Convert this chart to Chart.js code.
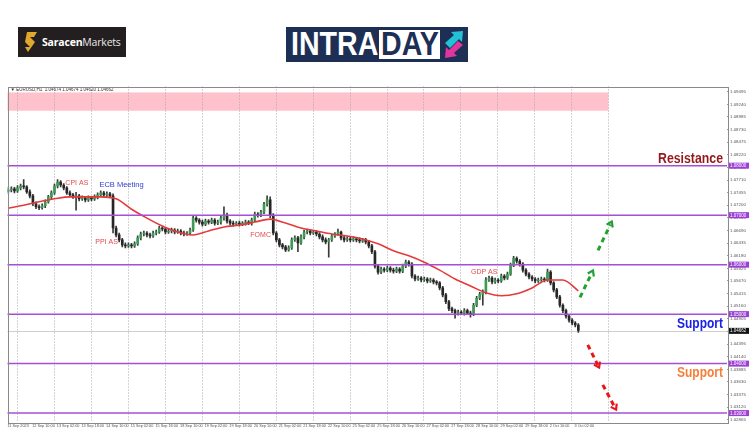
<!DOCTYPE html>
<html><head><meta charset="utf-8">
<script src="https://cdn.jsdelivr.net/npm/chart.js@4/dist/chart.umd.min.js"></script>
<style>
html,body{margin:0;padding:0;background:#fff;width:750px;height:430px;overflow:hidden;}
#wrap{position:relative;width:750px;height:430px;}
#c{position:absolute;left:0;top:0;}
#sar{position:absolute;left:18px;top:27px;width:108px;height:30px;background:#231f20;}
#sar svg{position:absolute;left:6px;top:5px;}
#sar .t{position:absolute;left:24px;top:8px;font-family:'Open Sans','Liberation Sans',sans-serif;font-size:10.5px;color:#fff;white-space:nowrap;letter-spacing:-0.2px;}
#sar .t b{font-weight:700;}
#sar .t span{font-weight:400;color:#e8e8e8;}
#intra{position:absolute;left:286px;top:27px;width:182px;height:35px;background:#1d2f55;overflow:hidden;}
#intra .a{position:absolute;left:5px;top:-3px;font-family:'Liberation Sans',Arial,sans-serif;font-weight:700;font-size:34px;color:#fff;transform:scaleX(0.84);transform-origin:left top;}
#intra .box{position:absolute;left:93px;top:3px;width:61px;height:29px;background:#fff;}
#intra .d{position:absolute;left:95px;top:-3px;font-family:'Liberation Sans',Arial,sans-serif;font-weight:700;font-size:34px;color:#1d2f55;transform:scaleX(0.84);transform-origin:left top;}
#intra svg{position:absolute;left:156px;top:2px;}
</style></head>
<body><div id="wrap">
<canvas id="c" width="750" height="430"></canvas>
<div id="sar"><svg width="14" height="20" viewBox="0 0 14 20"><polygon points="3,0 13,0 10,5 6,5 11,10 4,20 1,15 6,15 1,10" fill="#e0a92e"/></svg><div class="t"><b>Saracen</b><span>Markets</span></div></div>
<div id="intra"><div class="a">INTRA</div><div class="box"></div><div class="d">DAY</div>
<svg width="24" height="31" viewBox="0 0 24 31"><polygon points="3,14 12,6 9,3 21,2 20,13 17,10 8,19" fill="#22c1d6"/><polygon points="21,16 12,24 15,27 3,29 4,18 7,21 16,12" fill="#e0359f"/></svg></div>
</div>
<script>
// ---- data ----
const xTickLabels = ['11 Sep 2023','12 Sep 10:00','13 Sep 02:00','13 Sep 18:00','14 Sep 10:00','15 Sep 02:00','15 Sep 18:00','18 Sep 10:00','19 Sep 02:00','19 Sep 18:00','20 Sep 10:00','21 Sep 02:00','21 Sep 18:00','22 Sep 10:00','25 Sep 02:00','25 Sep 18:00','26 Sep 10:00','27 Sep 02:00','27 Sep 18:00','28 Sep 10:00','29 Sep 02:00','29 Sep 18:00','2 Oct 10:00','3 Oct 02:00'];
const yTickValues = [1.09495,1.09240,1.08985,1.08730,1.08475,1.08220,1.07965,1.07710,1.07455,1.07200,1.06945,1.06690,1.06435,1.06180,1.05925,1.05670,1.05415,1.05160,1.04905,1.04650,1.04395,1.04140,1.03885,1.03630,1.03375,1.03120,1.02865];
const levels = [1.0800,1.0700,1.0600,1.0500,1.0400,1.0300];
const currentPrice = 1.04662;
const band = [1.0911,1.0948];
const opens = [
1.0748,1.0751,1.0753,1.0749,1.0755,1.0759,1.0757,1.0747,1.0739,1.0723,
1.0717,1.0715,1.0719,1.0727,1.0737,1.0745,1.0759,1.0767,1.0761,1.0755,
1.0745,1.0741,1.0737,1.0739,1.0733,1.0735,1.0731,1.0735,1.0733,1.0737,
1.0741,1.0745,1.0741,1.0743,1.0739,1.0674,1.0660,1.0650,1.0640,1.0638,
1.0640,1.0638,1.0642,1.0654,1.0662,1.0664,1.0660,1.0658,1.0664,1.0666,
1.0674,1.0672,1.0666,1.0668,1.0670,1.0666,1.0668,1.0664,1.0662,1.0664,
1.0670,1.0694,1.0690,1.0686,1.0682,1.0688,1.0686,1.0690,1.0684,1.0686,
1.0694,1.0700,1.0688,1.0684,1.0682,1.0684,1.0682,1.0684,1.0686,1.0684,
1.0690,1.0702,1.0700,1.0706,1.0722,1.0731,1.0700,1.0664,1.0650,1.0640,
1.0636,1.0630,1.0634,1.0650,1.0654,1.0644,1.0656,1.0666,1.0668,1.0664,
1.0666,1.0662,1.0656,1.0650,1.0646,1.0650,1.0658,1.0662,1.0666,1.0654,
1.0650,1.0652,1.0650,1.0652,1.0650,1.0648,1.0650,1.0646,1.0638,1.0626,
1.0597,1.0585,1.0591,1.0589,1.0593,1.0589,1.0587,1.0591,1.0587,1.0597,
1.0605,1.0601,1.0577,1.0571,1.0573,1.0569,1.0571,1.0567,1.0569,1.0565,
1.0563,1.0553,1.0539,1.0525,1.0511,1.0507,1.0502,1.0504,1.0502,1.0507,
1.0502,1.0500,1.0518,1.0532,1.0540,1.0545,1.0569,1.0573,1.0565,1.0569,
1.0567,1.0577,1.0573,1.0581,1.0599,1.0613,1.0607,1.0601,1.0589,1.0581,
1.0575,1.0571,1.0567,1.0569,1.0571,1.0569,1.0585,1.0563,1.0549,1.0535,
1.0518,1.0507,1.0496,1.0488,1.0482,1.0478];
const highs = [
1.0756,1.0757,1.0756,1.0760,1.0763,1.0772,1.0760,1.0751,1.0742,1.0727,
1.0721,1.0723,1.0731,1.0740,1.0749,1.0763,1.0772,1.0770,1.0764,1.0758,
1.0749,1.0744,1.0746,1.0742,1.0739,1.0738,1.0739,1.0738,1.0741,1.0745,
1.0749,1.0748,1.0747,1.0746,1.0743,1.0678,1.0664,1.0653,1.0644,1.0644,
1.0643,1.0646,1.0658,1.0666,1.0668,1.0667,1.0664,1.0668,1.0670,1.0678,
1.0677,1.0675,1.0672,1.0674,1.0673,1.0672,1.0671,1.0668,1.0667,1.0674,
1.0699,1.0697,1.0693,1.0690,1.0692,1.0691,1.0694,1.0693,1.0690,1.0698,
1.0717,1.0704,1.0691,1.0688,1.0687,1.0688,1.0687,1.0690,1.0689,1.0694,
1.0706,1.0705,1.0710,1.0726,1.0739,1.0737,1.0703,1.0667,1.0653,1.0643,
1.0639,1.0638,1.0654,1.0658,1.0657,1.0660,1.0670,1.0672,1.0671,1.0669,
1.0669,1.0665,1.0660,1.0654,1.0653,1.0662,1.0665,1.0672,1.0668,1.0657,
1.0656,1.0655,1.0656,1.0655,1.0654,1.0653,1.0653,1.0649,1.0641,1.0629,
1.0600,1.0595,1.0594,1.0597,1.0596,1.0593,1.0595,1.0594,1.0601,1.0609,
1.0608,1.0604,1.0580,1.0577,1.0576,1.0575,1.0574,1.0573,1.0572,1.0568,
1.0566,1.0556,1.0542,1.0528,1.0514,1.0510,1.0508,1.0507,1.0511,1.0510,
1.0506,1.0522,1.0536,1.0544,1.0549,1.0574,1.0577,1.0576,1.0573,1.0572,
1.0581,1.0580,1.0585,1.0603,1.0617,1.0616,1.0610,1.0604,1.0592,1.0584,
1.0578,1.0574,1.0573,1.0575,1.0574,1.0591,1.0588,1.0566,1.0552,1.0538,
1.0521,1.0510,1.0499,1.0491,1.0485,1.0481];
const lows = [
1.0744,1.0747,1.0745,1.0746,1.0751,1.0753,1.0744,1.0735,1.0719,1.0713,
1.0711,1.0712,1.0715,1.0724,1.0733,1.0742,1.0755,1.0757,1.0751,1.0742,
1.0737,1.0734,1.0710,1.0729,1.0730,1.0727,1.0728,1.0729,1.0730,1.0733,
1.0738,1.0737,1.0738,1.0735,1.0664,1.0656,1.0646,1.0636,1.0634,1.0635,
1.0634,1.0635,1.0639,1.0650,1.0658,1.0656,1.0654,1.0655,1.0660,1.0663,
1.0668,1.0662,1.0663,1.0664,1.0662,1.0663,1.0660,1.0658,1.0659,1.0660,
1.0667,1.0686,1.0682,1.0678,1.0679,1.0682,1.0683,1.0680,1.0681,1.0682,
1.0690,1.0684,1.0680,1.0678,1.0679,1.0678,1.0679,1.0680,1.0681,1.0680,
1.0687,1.0696,1.0697,1.0703,1.0718,1.0695,1.0660,1.0646,1.0636,1.0632,
1.0626,1.0627,1.0631,1.0647,1.0626,1.0641,1.0652,1.0662,1.0660,1.0661,
1.0658,1.0652,1.0646,1.0642,1.0615,1.0647,1.0655,1.0659,1.0650,1.0646,
1.0647,1.0646,1.0647,1.0646,1.0644,1.0645,1.0642,1.0634,1.0622,1.0593,
1.0581,1.0582,1.0585,1.0586,1.0585,1.0583,1.0584,1.0583,1.0584,1.0594,
1.0597,1.0573,1.0567,1.0568,1.0565,1.0566,1.0563,1.0564,1.0561,1.0559,
1.0549,1.0535,1.0521,1.0507,1.0503,1.0492,1.0498,1.0499,1.0498,1.0499,
1.0494,1.0497,1.0515,1.0529,1.0518,1.0541,1.0566,1.0561,1.0562,1.0563,
1.0564,1.0569,1.0570,1.0578,1.0596,1.0603,1.0597,1.0585,1.0577,1.0571,
1.0567,1.0563,1.0564,1.0566,1.0565,1.0566,1.0559,1.0545,1.0531,1.0514,
1.0503,1.0492,1.0484,1.0478,1.0474,1.0463];
const closes = [
1.0751,1.0753,1.0749,1.0755,1.0759,1.0757,1.0747,1.0739,1.0723,1.0717,
1.0715,1.0719,1.0727,1.0737,1.0745,1.0759,1.0767,1.0761,1.0755,1.0745,
1.0741,1.0737,1.0739,1.0733,1.0735,1.0731,1.0735,1.0733,1.0737,1.0741,
1.0745,1.0741,1.0743,1.0739,1.0674,1.0660,1.0650,1.0640,1.0638,1.0640,
1.0638,1.0642,1.0654,1.0662,1.0664,1.0660,1.0658,1.0664,1.0666,1.0674,
1.0672,1.0666,1.0668,1.0670,1.0666,1.0668,1.0664,1.0662,1.0664,1.0670,
1.0694,1.0690,1.0686,1.0682,1.0688,1.0686,1.0690,1.0684,1.0686,1.0694,
1.0700,1.0688,1.0684,1.0682,1.0684,1.0682,1.0684,1.0686,1.0684,1.0690,
1.0702,1.0700,1.0706,1.0722,1.0731,1.0700,1.0664,1.0650,1.0640,1.0636,
1.0630,1.0634,1.0650,1.0654,1.0644,1.0656,1.0666,1.0668,1.0664,1.0666,
1.0662,1.0656,1.0650,1.0646,1.0650,1.0658,1.0662,1.0666,1.0654,1.0650,
1.0652,1.0650,1.0652,1.0650,1.0648,1.0650,1.0646,1.0638,1.0626,1.0597,
1.0585,1.0591,1.0589,1.0593,1.0589,1.0587,1.0591,1.0587,1.0597,1.0605,
1.0601,1.0577,1.0571,1.0573,1.0569,1.0571,1.0567,1.0569,1.0565,1.0563,
1.0553,1.0539,1.0525,1.0511,1.0507,1.0502,1.0504,1.0502,1.0507,1.0502,
1.0500,1.0518,1.0532,1.0540,1.0545,1.0569,1.0573,1.0565,1.0569,1.0567,
1.0577,1.0573,1.0581,1.0599,1.0613,1.0607,1.0601,1.0589,1.0581,1.0575,
1.0571,1.0567,1.0569,1.0571,1.0569,1.0585,1.0563,1.0549,1.0535,1.0518,
1.0507,1.0496,1.0488,1.0482,1.0478,1.0467];
// moving average, one reading every 5th candle
const maValues = [1.0714,1.0720,1.0727,1.0733,1.0737,1.0737,1.0737,1.0733,1.0712,1.0694,
1.0678,1.0666,1.0660,1.0668,1.0676,1.0680,1.0686,1.0692,1.0684,1.0674,
1.0668,1.0662,1.0658,1.0652,1.0642,1.0628,1.0618,1.0605,1.0589,1.0571,
1.0557,1.0543,1.0537,1.0541,1.0553,1.0569,1.0569,1.0547];

// ---- time helpers (hours since chart start; candles are 2H) ----
const HOURS_PER_CANDLE = 2, HOURS_PER_LABEL = 16, HOURS_PER_DAY = 24, FIRST_MIDNIGHT = 6;
const X_MAX = 467, BAND_END = 390;
const candleX = k => k*HOURS_PER_CANDLE + 0.5;

const annotations = [
  {text:'CPI AS', hour:45, price:1.0765, color:'#e24a4f', size:7},
  {text:'ECB Meeting', hour:74, price:1.0761, color:'#2f3fd0', size:7.5},
  {text:'PPI AS', hour:64.3, price:1.0646, color:'#e24a4f', size:7},
  {text:'FOMC', hour:164.3, price:1.0660, color:'#e24a4f', size:7},
  {text:'GDP AS', hour:309.4, price:1.0585, color:'#e24a4f', size:7}
];
const arrows = [
  {from:[371.6,1.0534], to:[380.0,1.0588], color:'#23a032'},
  {from:[383.3,1.0629], to:[392.2,1.0687], color:'#23a032'},
  {from:[376.6,1.0438], to:[384.0,1.0392], color:'#e8151b'},
  {from:[386.4,1.0357], to:[395.0,1.0307], color:'#e8151b'}
];

const wickData = closes.map((c,k)=>({x:candleX(k), y:[lows[k], highs[k]]}));
const bodyData = closes.map((c,k)=>({x:candleX(k), y:[opens[k], c]}));
const bodyColors = closes.map((c,k)=> c >= opens[k] ? '#3e9a52' : '#262626');
const maData = maValues.map((v,i)=>({x:candleX(i*5), y:v}));

function fitText(ctx, txt, xRight, yBase, width, font, color){
  ctx.save(); ctx.font = font;
  const w = ctx.measureText(txt).width;
  ctx.translate(xRight - width, yBase); ctx.scale(width/w, 1);
  ctx.fillStyle = color; ctx.textAlign='left'; ctx.textBaseline='alphabetic';
  ctx.fillText(txt, 0, 0); ctx.restore();
}
function drawArrow(ctx, x0, y0, x1, y1, color){
  ctx.save();
  ctx.strokeStyle = color; ctx.lineWidth = 3; ctx.lineCap='butt';
  const ang = Math.atan2(y1-y0, x1-x0);
  const len = Math.hypot(x1-x0, y1-y0);
  ctx.setLineDash([5,4]);
  ctx.beginPath(); ctx.moveTo(x0,y0);
  ctx.lineTo(x0 + Math.cos(ang)*(len-3), y0 + Math.sin(ang)*(len-3)); ctx.stroke();
  ctx.setLineDash([]); ctx.lineWidth = 2.2; ctx.lineJoin='miter';
  const hs = 6;
  ctx.beginPath();
  ctx.moveTo(x1 - hs*Math.cos(ang-0.6), y1 - hs*Math.sin(ang-0.6));
  ctx.lineTo(x1, y1);
  ctx.lineTo(x1 - hs*Math.cos(ang+0.6), y1 - hs*Math.sin(ang+0.6));
  ctx.stroke();
  ctx.restore();
}

const overlay = {
  id:'overlay',
  beforeDatasetsDraw(chart){
    const {ctx, chartArea:a, scales:{x,y}} = chart;
    ctx.save();
    const bx0 = x.getPixelForValue(0), bx1 = x.getPixelForValue(BAND_END);
    const by0 = y.getPixelForValue(band[1]), by1 = y.getPixelForValue(band[0]);
    ctx.fillStyle = '#ffc2cc';
    ctx.fillRect(bx0, by0, bx1-bx0, by1-by0);
    ctx.strokeStyle = '#a6a6a6'; ctx.lineWidth = 1; ctx.setLineDash([1,2]);
    for(let h=FIRST_MIDNIGHT; h<=BAND_END; h+=HOURS_PER_DAY){
      const px = Math.round(x.getPixelForValue(h))+0.5;
      ctx.beginPath(); ctx.moveTo(px, a.top); ctx.lineTo(px, a.bottom); ctx.stroke();
    }
    ctx.setLineDash([]);
    const cp = Math.round(y.getPixelForValue(currentPrice))+0.5;
    ctx.strokeStyle = '#cfcfcf';
    ctx.beginPath(); ctx.moveTo(a.left, cp); ctx.lineTo(a.right, cp); ctx.stroke();
    ctx.restore();
  },
  afterDatasetsDraw(chart){
    const {ctx, chartArea:a, scales:{x,y}} = chart;
    ctx.save();
    ctx.strokeStyle = '#a64fd4'; ctx.lineWidth = 1.5;
    levels.forEach(v=>{
      const py = y.getPixelForValue(v);
      ctx.beginPath(); ctx.moveTo(a.left, py); ctx.lineTo(a.right, py); ctx.stroke();
    });
    ctx.font = '4.5px "Liberation Sans", Arial, sans-serif';
    ctx.textBaseline = 'middle'; ctx.textAlign = 'left';
    levels.forEach(v=>{
      const py = y.getPixelForValue(v);
      ctx.fillStyle = '#9b3fd6'; ctx.fillRect(a.right+1, py-3, 21, 6);
      ctx.fillStyle = '#fff'; ctx.fillText(v.toFixed(5), a.right+3, py+0.3);
    });
    const cpy = y.getPixelForValue(currentPrice);
    ctx.fillStyle = '#111'; ctx.fillRect(a.right+1, cpy-3, 21, 6);
    ctx.fillStyle = '#fff'; ctx.fillText(currentPrice.toFixed(5), a.right+3, cpy+0.3);
    ctx.textAlign = 'center';
    annotations.forEach(n=>{
      ctx.font = n.size + 'px "Liberation Sans", Arial, sans-serif';
      ctx.fillStyle = n.color;
      ctx.fillText(n.text, x.getPixelForValue(n.hour), y.getPixelForValue(n.price));
    });
    arrows.forEach(ar=>{
      drawArrow(ctx, x.getPixelForValue(ar.from[0]), y.getPixelForValue(ar.from[1]),
                     x.getPixelForValue(ar.to[0]), y.getPixelForValue(ar.to[1]), ar.color);
    });
    const bold = 'bold 14px "Liberation Sans", Arial, sans-serif';
    fitText(ctx, 'Resistance', a.right-4, y.getPixelForValue(levels[0])-3, 65, bold, '#93191c');
    fitText(ctx, 'Support', a.right-4, y.getPixelForValue(levels[3])+13.5, 46, 'bold 15px "Liberation Sans", Arial, sans-serif', '#1b22e6');
    fitText(ctx, 'Support', a.right-4, y.getPixelForValue(levels[4])+13, 46, bold, '#f5803c');
    ctx.font = '4.5px "Liberation Sans", Arial, sans-serif';
    ctx.fillStyle = '#333'; ctx.textAlign='left'; ctx.textBaseline='middle';
    ctx.fillText('\u25BC EURUSD,H1  1.04674 1.04674 1.04620 1.04662', a.left+3, a.top+3.5);
    ctx.strokeStyle = '#8a8a8a'; ctx.lineWidth = 1;
    ctx.strokeRect(Math.round(a.left)+0.5, Math.round(a.top)+0.5, Math.round(a.right-a.left), Math.round(a.bottom-a.top));
    ctx.restore();
  }
};

Chart.defaults.font.family = '"Liberation Sans", Arial, sans-serif';
new Chart(document.getElementById('c'), {
  type:'bar',
  data:{datasets:[
    {type:'line', data:maData, borderColor:'#e5393a', borderWidth:1.6, pointRadius:0, cubicInterpolationMode:'monotone', order:1},
    {type:'bar', data:bodyData, backgroundColor:bodyColors, barThickness:2, grouped:false, minBarLength:1, borderWidth:0, order:2},
    {type:'bar', data:wickData, backgroundColor:'#3a3a3a', barThickness:1, grouped:false, borderWidth:0, order:3}
  ]},
  options:{
    responsive:false, animation:false, devicePixelRatio:1,
    layout:{padding:{left:7.5, top:86.5, right:0, bottom:0}},
    plugins:{legend:{display:false}, tooltip:{enabled:false}},
    scales:{
      x:{type:'linear', min:0, max:X_MAX, offset:false,
        grid:{display:false, drawTicks:false, tickLength:0}, border:{display:false},
        afterBuildTicks:s=>{ s.ticks = xTickLabels.map((_,i)=>({value:i*HOURS_PER_LABEL})); },
        ticks:{autoSkip:false, maxRotation:0, minRotation:0, align:'start', padding:1.5,
          font:{size:3.8}, color:'#555', callback:(v,i)=>xTickLabels[i]},
        afterFit:s=>{ s.height = 7.5; }
      },
      y:{position:'right', min:1.0281, max:1.0960,
        grid:{display:true, drawOnChartArea:false, tickLength:2, color:'#999'}, border:{display:false},
        afterBuildTicks:s=>{ s.ticks = yTickValues.map(v=>({value:v})); },
        ticks:{font:{size:4.4}, color:'#555', padding:1, callback:v=>v.toFixed(5)},
        afterFit:s=>{ s.width = 23; }
      }
    }
  },
  plugins:[overlay]
});
</script>
</body></html>
